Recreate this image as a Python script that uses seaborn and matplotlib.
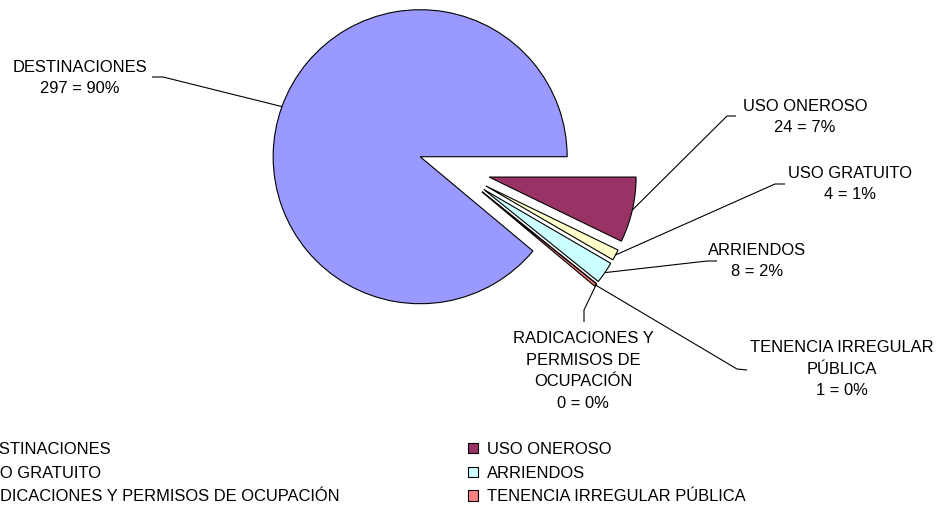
import matplotlib
matplotlib.use("Agg")
import numpy as np
import matplotlib.pyplot as plt
import seaborn as sns

# Data
categories = ["DESTINACIONES", "USO ONEROSO", "USO GRATUITO", "ARRIENDOS",
              "RADICACIONES Y PERMISOS DE OCUPACIÓN", "TENENCIA IRREGULAR PÚBLICA"]
label_titles = ["DESTINACIONES", "USO ONEROSO", "USO GRATUITO", "ARRIENDOS",
                "RADICACIONES Y\nPERMISOS DE\nOCUPACIÓN", "TENENCIA IRREGULAR\nPÚBLICA"]
counts = [297, 24, 4, 8, 0, 1]
shown_pct = [90, 7, 1, 2, 0, 0]
colors = ["#9999FF", "#993366", "#FFFFCC", "#CCFFFF", "#660066", "#FF8080"]

sns.set_theme(style="white")
plt.rcParams["font.family"] = ["Liberation Sans", "DejaVu Sans"]
plt.rcParams["text.color"] = "black"

W, H = 946, 521
FS = 11.9
fig = plt.figure(figsize=(W / 100, H / 100), dpi=100)
ax = fig.add_axes([0, 0, 1, 1])

total = sum(counts)
start = -360.0 * sum(counts[1:]) / total   # first small slice begins at 3 o'clock
R = 147
center = (454, H - 169)
palette = sns.color_palette(colors)

# explode is an absolute offset here because the axes are in pixel units
wedges, _ = ax.pie(counts, colors=palette, startangle=start, counterclock=False,
                   radius=R, center=center, explode=[36] * len(counts),
                   wedgeprops=dict(edgecolor="black", linewidth=0.8))
ax.set_xlim(0, W)
ax.set_ylim(0, H)
ax.set_aspect("equal")
ax.axis("off")

# Data label layout (pixel coordinates measured from the top-left corner)
label_pos = [(80, 78), (805, 117), (850, 184), (757, 261), (583, 371), (842, 369)]
leader_elbow = [(163, 77), (727, 116), (775, 184), (707, 261), (584, 310), (737, 369)]
leader_end = [(152, 77), (736, 116), (785, 184), (717, 261), (584, 322), (747, 370)]

for w, title, n, p, (lx, ly), (ex, ey), (tx, ty) in zip(
        wedges, label_titles, counts, shown_pct, label_pos, leader_elbow, leader_end):
    mid = np.deg2rad((w.theta1 + w.theta2) / 2)
    cx, cy = w.center
    sx, sy = cx + w.r * np.cos(mid), cy + w.r * np.sin(mid)
    ax.plot([sx, ex, tx], [sy, H - ey, H - ty], color="black", lw=0.8,
            solid_capstyle="butt")
    ax.text(lx, H - ly, f"{title}\n{n} = {p}%", ha="center", va="center",
            fontsize=FS, linespacing=1.56, color="black")

# Legend in two columns
leg_kw = dict(frameon=False, fontsize=FS, handlelength=0.6, handleheight=0.6,
              handletextpad=0.55, labelspacing=0.52, borderpad=0,
              borderaxespad=0, loc="upper left", labelcolor="black")
col1, col2 = [0, 2, 4], [1, 3, 5]
fig.legend([wedges[i] for i in col1], [categories[i] for i in col1],
           bbox_to_anchor=(-42 / W, 1 - 442 / H), **leg_kw)
fig.legend([wedges[i] for i in col2], [categories[i] for i in col2],
           bbox_to_anchor=(468 / W, 1 - 442 / H), **leg_kw)

fig.savefig("out.png", dpi=100)
